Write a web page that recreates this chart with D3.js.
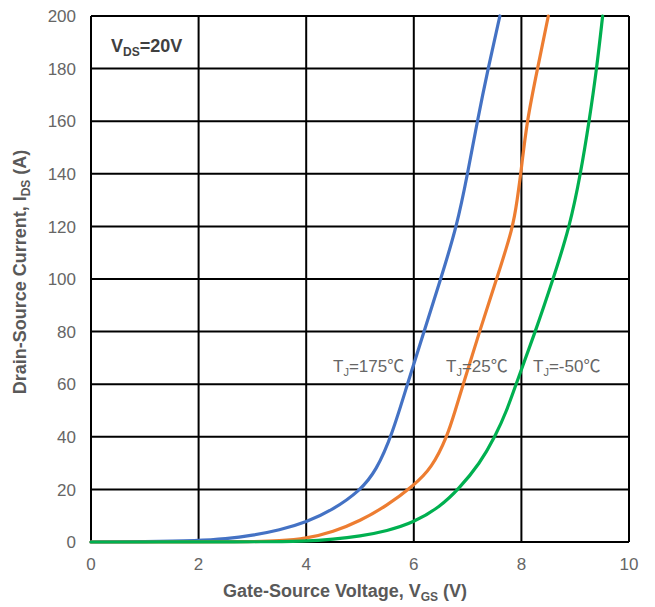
<!DOCTYPE html>
<html>
<head>
<meta charset="utf-8">
<script src="https://cdn.jsdelivr.net/npm/d3@7"></script>
<style>
  html, body { margin: 0; padding: 0; background: #fff; }
  svg text { font-family: "Liberation Sans", Arial, "Noto Sans CJK SC", sans-serif; }
</style>
</head>
<body>
<svg id="chart" width="655" height="607"></svg>
<script>
// Transfer characteristics: drain-source current vs gate-source voltage at three junction temperatures
const xTicks = [0, 2, 4, 6, 8, 10];
const yTicks = [0, 20, 40, 60, 80, 100, 120, 140, 160, 180, 200];

const vgs175 = [0, 1, 2, 2.5, 3, 3.5, 4, 4.5, 5, 5.3, 5.6, 5.88, 6.19, 6.5, 6.8, 7.0, 7.18, 7.38, 7.6];
const ids175 = [0, 0.1, 0.5, 1.2, 2.5, 4.5, 7.5, 12.3, 19.5, 27, 41, 60, 80, 100, 120, 140, 160, 180, 200];

const vgs25 = [0, 2, 3, 3.5, 4, 4.5, 5, 5.5, 6, 6.33, 6.62, 6.77, 6.92, 7.22, 7.54, 7.85, 7.92, 7.99, 8.1, 8.3, 8.5];
const ids25 = [0, 0, 0.1, 0.4, 1.3, 3.8, 8, 13.8, 21.5, 28, 40, 50, 60, 80, 100, 120, 130, 140, 160, 180, 200];

const vgsM50 = [0, 3, 4, 4.5, 5, 5.5, 6, 6.49, 6.83, 7.23, 7.51, 7.73, 7.9, 8.26, 8.59, 8.9, 9.1, 9.26, 9.4, 9.51];
const idsM50 = [0, 0, 0.3, 1.0, 2.2, 4.2, 7.4, 13.4, 20, 29.9, 40, 50, 60, 80, 100, 120, 140, 160, 180, 200];

const seriesNames = ["T_J=175℃", "T_J=25℃", "T_J=-50℃"];
const seriesColors = ["#4472C4", "#ED7D31", "#00B050"];

const series = [
  { name: seriesNames[0], color: seriesColors[0], pts: vgs175.map((v, i) => [v, ids175[i]]) },
  { name: seriesNames[1], color: seriesColors[1], pts: vgs25.map((v, i) => [v, ids25[i]]) },
  { name: seriesNames[2], color: seriesColors[2], pts: vgsM50.map((v, i) => [v, idsM50[i]]) }
];

const svg = d3.select("#chart");
const plot = { left: 91, right: 629, top: 16, bottom: 542 };

const x = d3.scaleLinear().domain([0, 10]).range([plot.left, plot.right]);
const y = d3.scaleLinear().domain([0, 200]).range([plot.bottom, plot.top]);

// grid
const grid = svg.append("g").attr("stroke", "#000").attr("stroke-width", 2);
grid.selectAll("line.v").data(xTicks).join("line")
  .attr("x1", d => x(d)).attr("x2", d => x(d))
  .attr("y1", plot.top).attr("y2", plot.bottom);
grid.selectAll("line.h").data(yTicks).join("line")
  .attr("x1", plot.left).attr("x2", plot.right)
  .attr("y1", d => y(d)).attr("y2", d => y(d));

// tick labels
svg.append("g").selectAll("text").data(xTicks).join("text")
  .attr("x", d => x(d)).attr("y", plot.bottom + 28)
  .attr("text-anchor", "middle")
  .attr("font-size", 17).attr("fill", "#666")
  .text(d => d);
svg.append("g").selectAll("text").data(yTicks).join("text")
  .attr("x", plot.left - 15).attr("y", d => y(d))
  .attr("dy", "0.36em")
  .attr("text-anchor", "end")
  .attr("font-size", 17).attr("fill", "#666")
  .text(d => d);

// smoothed curves
const line = d3.line().x(d => x(d[0])).y(d => y(d[1])).curve(d3.curveBasis);
svg.append("g").selectAll("path").data(series).join("path")
  .attr("d", d => line(d.pts))
  .attr("fill", "none")
  .attr("stroke", d => d.color)
  .attr("stroke-width", 3.2)
  .attr("stroke-linejoin", "round")
  .attr("stroke-linecap", "round");

// helper for text with one subscript
function subText(sel, main, sub, rest, subSize) {
  sel.append("tspan").text(main);
  sel.append("tspan").attr("font-size", subSize).attr("dy", 4).text(sub);
  sel.append("tspan").attr("dy", -4).text(rest);
}

// temperature labels
const labelX = [333, 446, 533];
series.forEach((s, i) => {
  const parts = s.name.split("_");
  const t = svg.append("text")
    .attr("x", labelX[i]).attr("y", 372)
    .attr("font-size", 17).attr("fill", "#666");
  subText(t, parts[0], parts[1].charAt(0), parts[1].slice(1), 11);
});

// condition label
const cond = svg.append("text")
  .attr("x", 111).attr("y", 52)
  .attr("font-size", 18).attr("font-weight", "bold").attr("fill", "#404040");
subText(cond, "V", "DS", "=20V", 12);

// axis titles
const xt = svg.append("text")
  .attr("x", 345).attr("y", 597)
  .attr("text-anchor", "middle")
  .attr("font-size", 18).attr("font-weight", "bold").attr("fill", "#595959");
subText(xt, "Gate-Source Voltage, V", "GS", " (V)", 12);

const yt = svg.append("text")
  .attr("transform", "translate(26,272) rotate(-90)")
  .attr("text-anchor", "middle")
  .attr("font-size", 18).attr("font-weight", "bold").attr("fill", "#595959");
subText(yt, "Drain-Source Current, I", "DS", " (A)", 12);
</script>
</body>
</html>
